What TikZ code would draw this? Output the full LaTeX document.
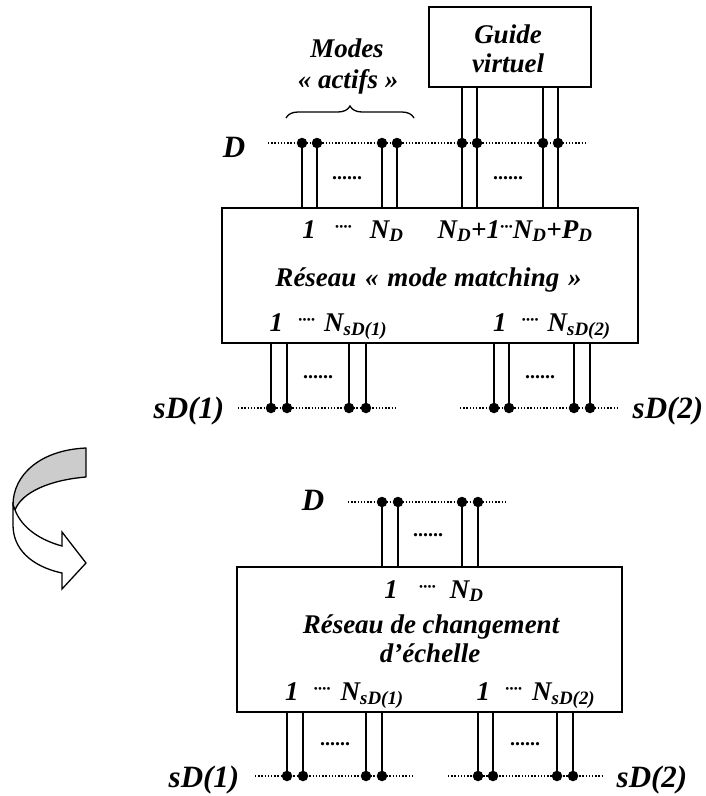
\documentclass[tikz,border=0pt]{standalone}
\usepackage{fontspec}
\setmainfont{Liberation Serif}
\usetikzlibrary{decorations.pathreplacing}

\tikzset{
    lbl/.style={font=\fontsize{27}{30}\selectfont\bfseries\itshape, inner sep=0pt, anchor=base},
    big/.style={font=\fontsize{31}{34}\selectfont\bfseries\itshape, inner sep=0pt, anchor=base},
    ell/.style={font=\fontsize{20}{22}\selectfont\bfseries, inner sep=0pt, anchor=base},
    bloc/.style={draw, line width=2.4pt, inner sep=0pt},
    bus/.style={line width=1.3pt, dash pattern=on 1.3pt off 1.9pt},
    fil/.style={line width=1.9pt},
    pin/.style={circle, fill, inner sep=0pt, minimum size=10.5pt},
}
% small raised dots between port numbers
\newcommand{\pts}[3]{\hspace{#1pt}\raisebox{6pt}{\fontsize{17}{17}\selectfont #3}\hspace{#2pt}}

\begin{document}
\begin{tikzpicture}[x=1pt,y=-1pt]
    \useasboundingbox (0,0) rectangle (705,796);

    \begin{scope}
        % Blocks
        \node[bloc, minimum width=162, minimum height=80] (guide) at (510,47) {};
        \node[bloc, minimum width=416, minimum height=135] (mm) at (430,275.5) {};

        % Texts
        \node[lbl] (guide1) at (508,43) {Guide};
        \node[lbl] (guide2) at (508,72) {virtuel};
        \node[lbl] (modes1) at (347,57) {Modes};
        \node[lbl] (modes2) at (348,88) {« actifs »};
        \node[big] (labD) at (234,157) {D};
        \node[lbl] (inA) at (353,238) {1\pts{19}{18}{····}N\textsubscript{D}};
        \node[lbl] (inB) at (515,238) {N\textsubscript{D}+1\pts{0}{0}{···}N\textsubscript{D}+P\textsubscript{D}};
        \node[lbl] (mmtxt) at (428.5,286) {Réseau\hspace{2pt} «\hspace{2pt} mode matching\hspace{2pt} »};
        \node[lbl] (outA) at (328.5,331) {1\pts{15}{9}{····}N\textsubscript{sD(1)}};
        \node[lbl] (outB) at (552,331) {1\pts{15}{9}{····}N\textsubscript{sD(2)}};
        \node[big] (labA) at (189,418) {sD(1)};
        \node[big] (labB) at (668,418) {sD(2)};
        \node[ell] (e1) at (347,179) {......};
        \node[ell] (e2) at (508,179) {......};
        \node[ell] (e3) at (318,378) {......};
        \node[ell] (e4) at (540,378) {......};

        % Bus lines
        \coordinate (dl) at (268,143);  \coordinate (dr) at (587,143);
        \coordinate (al) at (238,408);  \coordinate (ar) at (395,408);
        \coordinate (bl) at (460,408);  \coordinate (br) at (617,408);
        \draw[bus] (dl) -- (dr);
        \draw[bus] (al) -- (ar);
        \draw[bus] (bl) -- (br);

        % Pins and wires
        \foreach \x [count=\i] in {302,317,382,397,462,477,543,558} {
            \node[pin] (d\i) at (\x,143) {};
            \draw[fil] (d\i) -- (d\i |- mm.north);
        }
        \foreach \i in {5,...,8} {
            \draw[fil] (guide.south -| d\i) -- (d\i);
        }
        \foreach \x [count=\i] in {271,287,349,366} {
            \node[pin] (a\i) at (\x,408) {};
            \draw[fil] (mm.south -| a\i) -- (a\i);
        }
        \foreach \x [count=\i] in {494,509,574,590} {
            \node[pin] (b\i) at (\x,408) {};
            \draw[fil] (mm.south -| b\i) -- (b\i);
        }

        % Brace
        \draw[decorate, decoration={brace, amplitude=12pt}, line width=1.3pt]
            (286,118) -- (414,118);
    \end{scope}

    % Curved arrow
    \filldraw[fill=gray!40, line width=1.3pt, line join=round]
        (86,448) .. controls (40,450) and (13,475) .. (13,505)
        -- (15,510) .. controls (22,492) and (50,480) .. (86,477) -- cycle;
    \filldraw[fill=white, line width=1.3pt, line join=miter]
        (15,510) .. controls (22,528) and (40,540) .. (62,546)
        -- (62,532) -- (86,563) -- (62,589) -- (62,573)
        .. controls (30,566) and (13,548) .. (13,525) -- (13,505) -- cycle;

    \begin{scope}
        % Block
        \node[bloc, minimum width=385, minimum height=145] (ce) at (429.5,639.5) {};

        % Texts
        \node[big] (labD2) at (313,510) {D};
        \node[lbl] (inC) at (434,598) {1\pts{21}{14}{····}N\textsubscript{D}};
        \node[lbl] (cetxt1) at (431,633) {Réseau de changement};
        \node[lbl] (cetxt2) at (430,662) {d’échelle};
        \node[lbl] (outC) at (344.5,700) {1\pts{15}{10}{····}N\textsubscript{sD(1)}};
        \node[lbl] (outD) at (536,700) {1\pts{15}{10}{····}N\textsubscript{sD(2)}};
        \node[big] (labC) at (204,787) {sD(1)};
        \node[big] (labE) at (652,787) {sD(2)};
        \node[ell] (e5) at (428,536) {......};
        \node[ell] (e6) at (335,745) {......};
        \node[ell] (e7) at (525,745) {......};

        % Bus lines
        \coordinate (fl) at (348,502);  \coordinate (fr) at (505,502);
        \coordinate (gl) at (255,776);  \coordinate (gr) at (412,776);
        \coordinate (hl) at (448,776);  \coordinate (hr) at (603,776);
        \draw[bus] (fl) -- (fr);
        \draw[bus] (gl) -- (gr);
        \draw[bus] (hl) -- (hr);

        % Pins and wires
        \foreach \x [count=\i] in {382,398,462,478} {
            \node[pin] (f\i) at (\x,502) {};
            \draw[fil] (f\i) -- (f\i |- ce.north);
        }
        \foreach \x [count=\i] in {287,303,366,382} {
            \node[pin] (g\i) at (\x,776) {};
            \draw[fil] (ce.south -| g\i) -- (g\i);
        }
        \foreach \x [count=\i] in {478,493,557,573} {
            \node[pin] (h\i) at (\x,776) {};
            \draw[fil] (ce.south -| h\i) -- (h\i);
        }
    \end{scope}
\end{tikzpicture}
\end{document}
